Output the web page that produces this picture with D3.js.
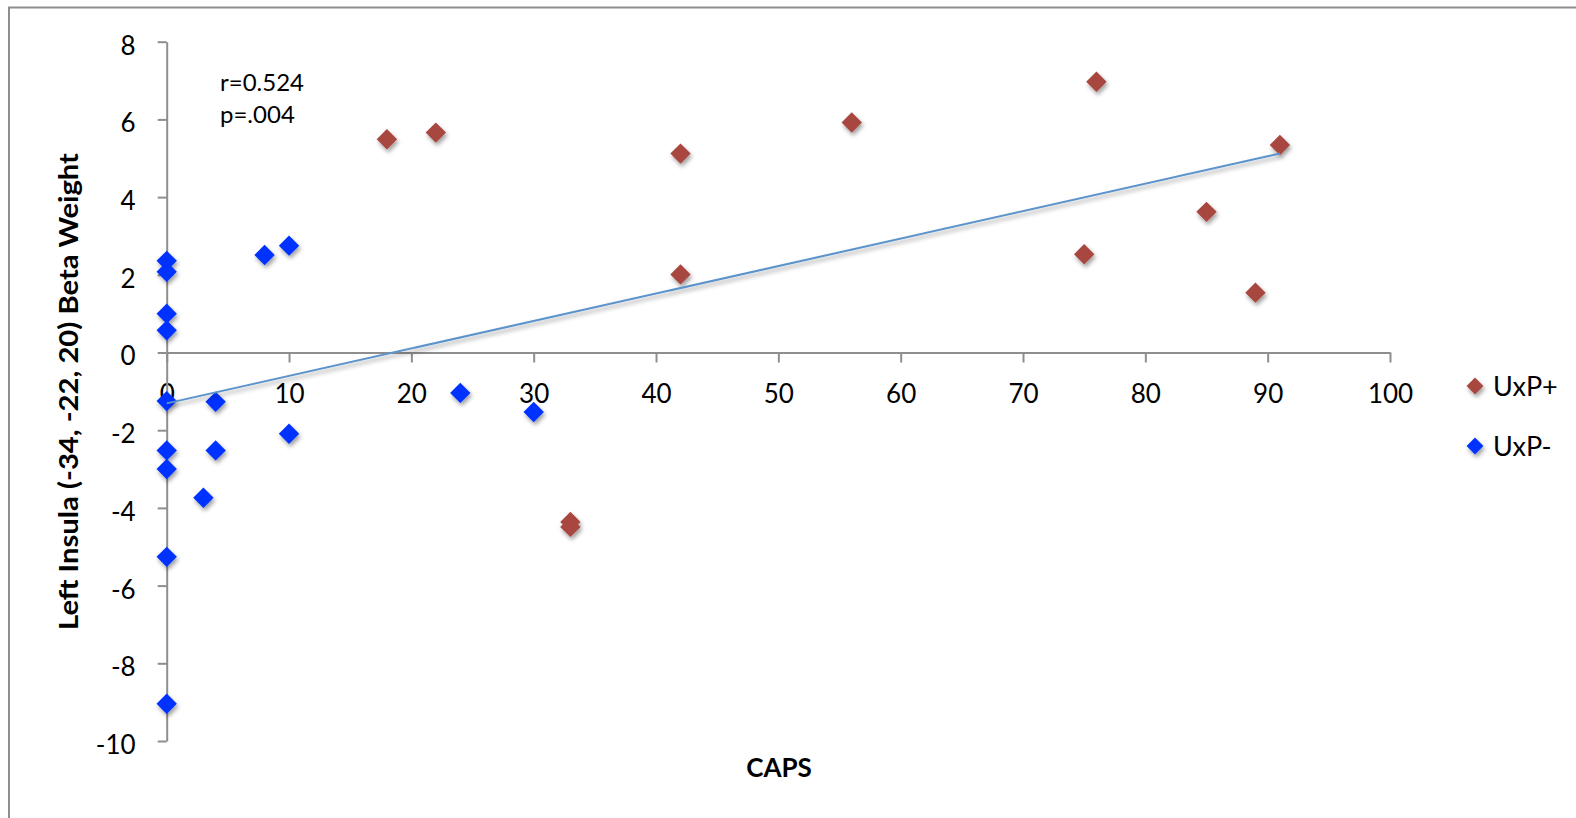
<!DOCTYPE html>
<html>
<head>
<meta charset="utf-8">
<script src="https://cdn.jsdelivr.net/npm/d3@7"></script>
<style>
  html, body { margin: 0; padding: 0; background: #fff; }
  svg { display: block; font-family: Lato, "Open Sans", sans-serif; }
</style>
</head>
<body>
<svg id="chart" width="1576" height="818"></svg>
<script>
// CAPS score vs. left insula beta weight, split by group
const seriesNames = ["UxP+", "UxP-"];
const seriesColors = ["#a8463f", "#0433ff"];

const uxpPlusCaps = [18, 22, 42, 56, 42, 33, 33, 76, 91, 85, 75, 89];
const uxpPlusBeta = [5.49, 5.66, 5.12, 5.92, 2.01, -4.36, -4.49, 6.97, 5.34, 3.62, 2.53, 1.54];

const uxpMinusCaps = [0, 0, 0, 0, 8, 10, 0, 4, 10, 0, 4, 0, 3, 0, 0, 24, 30];
const uxpMinusBeta = [2.36, 2.08, 1.0, 0.57, 2.51, 2.75, -1.25, -1.27, -2.09, -2.52, -2.52, -3.0, -3.74, -5.26, -9.04, -1.04, -1.53];

const xTicks = [0, 10, 20, 30, 40, 50, 60, 70, 80, 90, 100];
const yTicks = [-10, -8, -6, -4, -2, 0, 2, 4, 6, 8];

// linear trend across all subjects (intercept, slope)
const trendCoef = [-1.31, 0.0707];
const statsLines = ["r=0.524", "p=.004"];

const svg = d3.select("#chart");

// chart frame
svg.append("path")
  .attr("d", "M9,818 V7.5 H1576")
  .attr("fill", "none")
  .attr("stroke", "#8e8e8e")
  .attr("stroke-width", 2);

const defs = svg.append("defs");
const shadow = defs.append("filter").attr("id", "shadow")
  .attr("x", "-50%").attr("y", "-50%").attr("width", "200%").attr("height", "200%");
shadow.append("feDropShadow")
  .attr("dx", 1.5).attr("dy", 3).attr("stdDeviation", 2)
  .attr("flood-color", "#000").attr("flood-opacity", 0.38);

const x = d3.scaleLinear().domain([0, 100]).range([166.7, 1390]);
const y = d3.scaleLinear().domain([-10, 8]).range([741, 41.7]);

const axisColor = "#8e8e8e";
const plainNumber = d => String(d);

// x axis crosses at y = 0
const gx = svg.append("g")
  .attr("transform", `translate(0,${y(0)})`)
  .call(d3.axisBottom(x).tickValues(xTicks).tickSize(10).tickSizeOuter(0).tickPadding(22).tickFormat(plainNumber));
gx.select(".domain").attr("stroke", axisColor).attr("stroke-width", 2);
gx.selectAll(".tick line").attr("stroke", axisColor).attr("stroke-width", 2);
gx.selectAll(".tick text").attr("fill", "#000").attr("font-size", 26)
  .attr("font-family", "Lato, sans-serif");

// y axis at x = 0
const gy = svg.append("g")
  .attr("transform", `translate(${x(0)},0)`)
  .call(d3.axisLeft(y).tickValues(yTicks).tickSize(9).tickSizeOuter(0).tickPadding(22).tickFormat(plainNumber));
gy.select(".domain").attr("stroke", axisColor).attr("stroke-width", 2);
gy.selectAll(".tick line").attr("stroke", axisColor).attr("stroke-width", 2);
gy.selectAll(".tick text").attr("fill", "#000").attr("font-size", 26)
  .attr("font-family", "Lato, sans-serif").attr("dy", "0.48em");

// axis titles
svg.append("text")
  .attr("transform", "translate(78,391.5) rotate(-90)")
  .attr("text-anchor", "middle")
  .attr("font-size", 26).attr("font-weight", "bold")
  .attr("textLength", 477).attr("lengthAdjust", "spacingAndGlyphs")
  .text("Left Insula (-34, -22, 20) Beta Weight");

svg.append("text")
  .attr("x", 779).attr("y", 777)
  .attr("text-anchor", "middle")
  .attr("font-size", 26).attr("font-weight", "bold")
  .text("CAPS");

// correlation statistics
svg.append("g").selectAll("text").data(statsLines).join("text")
  .attr("x", 220).attr("y", (d, i) => 91 + i * 32)
  .attr("font-size", 24)
  .text(d => d);

// points
const diamond = d3.symbol().type(d3.symbolDiamond2);
const seriesData = [
  uxpPlusCaps.map((c, i) => ({ caps: c, beta: uxpPlusBeta[i] })),
  uxpMinusCaps.map((c, i) => ({ caps: c, beta: uxpMinusBeta[i] }))
];
const markSize = 2 * 11.5 * 11.5;

seriesData.forEach((data, s) => {
  svg.append("g").attr("filter", "url(#shadow)")
    .selectAll("path").data(data).join("path")
    .attr("d", diamond.size(markSize)())
    .attr("transform", d => `translate(${x(d.caps)},${y(d.beta)})`)
    .attr("fill", seriesColors[s]);
});

// trend line over the observed CAPS range
const allCaps = uxpPlusCaps.concat(uxpMinusCaps);
const capsRange = d3.extent(allCaps);
svg.append("line")
  .attr("x1", x(capsRange[0])).attr("y1", y(trendCoef[0] + trendCoef[1] * capsRange[0]))
  .attr("x2", x(capsRange[1])).attr("y2", y(trendCoef[0] + trendCoef[1] * capsRange[1]))
  .attr("stroke", "#5b93cb").attr("stroke-width", 2)
  .attr("filter", "url(#shadow)");

// legend
const legend = svg.append("g");
const legendRows = legend.selectAll("g").data(seriesNames).join("g")
  .attr("transform", (d, i) => `translate(1475,${386 + i * 60})`);
legendRows.append("path")
  .attr("d", diamond.size(2 * 9.5 * 9.5)())
  .attr("fill", (d, i) => seriesColors[i])
  .attr("filter", "url(#shadow)");
legendRows.append("text")
  .attr("x", 18).attr("y", 10)
  .attr("font-size", 27)
  .text(d => d);
</script>
</body>
</html>
